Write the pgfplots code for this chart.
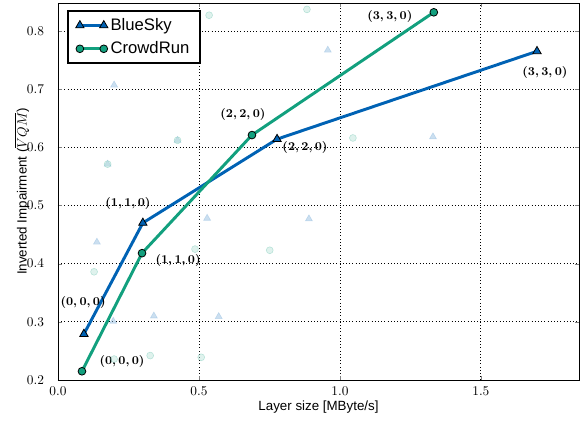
\documentclass[border=0pt]{standalone}
\usepackage{fontspec}
\setmainfont{Liberation Sans}
\usepackage{pgfplots}
\pgfplotsset{compat=1.18}
\definecolor{skyblue}{HTML}{0062B4}
\definecolor{runteal}{HTML}{12A07E}

\begin{document}
\begin{tikzpicture}
  \begin{axis}[
    name=ax,
    scale only axis,
    width=390.75pt, height=282.75pt,
    xmin=0, xmax=1.848, ymin=0.2, ymax=0.848,
    xtick={0,0.5,1.0,1.5}, ytick={0.2,0.3,0.4,0.5,0.6,0.7,0.8},
    xticklabel style={/pgf/number format/fixed,/pgf/number format/fixed zerofill,
                      /pgf/number format/precision=1,yshift=-2pt},
    yticklabel style={/pgf/number format/fixed,/pgf/number format/fixed zerofill,
                      /pgf/number format/precision=1,xshift=-7pt},
    tick align=inside, tick pos=both,
    major tick length=3pt,
    axis line style={line width=0.6pt},
    grid=major, grid style={black,dotted,line width=0.6pt},
    xlabel={Layer size [MByte/s]},
    ylabel={Inverted Impairment ($\overline{VQM}$)},
    xlabel style={at={(axis description cs:0.5,-0.0716)},anchor=center},
    ylabel style={at={(axis description cs:-0.0691,0.5)},anchor=center},
    legend style={draw=black,line width=1.3pt,font=\fontsize{12.5}{14}\selectfont,
                  at={(axis description cs:0.017,0.981)},anchor=north west,
                  row sep=3pt,inner xsep=6pt,inner ysep=3.5pt},
    legend cell align=left,
    legend image code/.code={%
      \draw[mark repeat=1] plot coordinates {(0cm,0cm) (0.63cm,0cm)};},
  ]
    % faint background runs
    \addplot[only marks,mark=triangle*,mark size=3pt,forget plot,
             draw=skyblue!45,fill=skyblue!45,opacity=0.45]
      coordinates {(0.199,0.707) (0.424,0.612) (0.176,0.571) (0.529,0.478)
                   (0.957,0.767) (1.330,0.618) (0.890,0.477) (0.138,0.437)
                   (0.196,0.301) (0.340,0.310) (0.570,0.309)};
    \addplot[only marks,mark=*,mark size=2.6pt,forget plot,
             draw=runteal!60,fill=runteal!30,opacity=0.45]
      coordinates {(0.536,0.827) (0.424,0.612) (0.176,0.571) (0.883,0.837)
                   (1.046,0.616) (0.128,0.386) (0.486,0.425) (0.751,0.423)
                   (0.199,0.236) (0.327,0.242) (0.508,0.239)};

    \addplot[skyblue,line width=2.2pt,mark=triangle*,mark size=3.6pt,
             mark options={fill=skyblue,draw=black,line width=0.6pt}]
      coordinates {(0.092,0.279) (0.301,0.470) (0.777,0.614) (1.699,0.765)};
    \addplot[runteal,line width=2.2pt,mark=*,mark size=2.9pt,
             mark options={fill=runteal,draw=black,line width=0.6pt}]
      coordinates {(0.085,0.215) (0.298,0.418) (0.688,0.621) (1.333,0.832)};
    \legend{BlueSky,CrowdRun}

    \begin{scope}[every node/.style={font=\fontsize{9.5}{11}\selectfont\boldmath}]
      \node at (axis cs:0.089,0.334) {$(0,0,0)$};
      \node at (axis cs:0.227,0.231) {$(0,0,0)$};
      \node at (axis cs:0.248,0.504) {$(1,1,0)$};
      \node at (axis cs:0.426,0.405) {$(1,1,0)$};
      \node at (axis cs:0.656,0.657) {$(2,2,0)$};
      \node at (axis cs:0.876,0.599) {$(2,2,0)$};
      \node at (axis cs:1.177,0.825) {$(3,3,0)$};
      \node at (axis cs:1.727,0.729) {$(3,3,0)$};
    \end{scope}
  \end{axis}
  \pgfresetboundingbox
  \path[use as bounding box] ([xshift=-43.5pt,yshift=-32.25pt]ax.south west)
    rectangle ([xshift=4.5pt,yshift=2.25pt]ax.north east);
\end{tikzpicture}
\end{document}
